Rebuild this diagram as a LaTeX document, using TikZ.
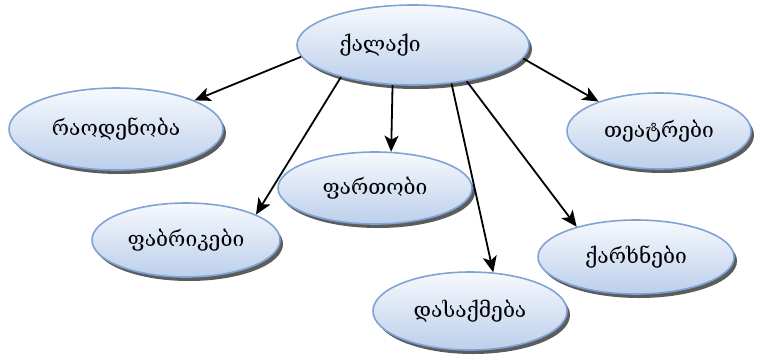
\documentclass[tikz,border=0pt]{standalone}
\usepackage{fontspec}
\setmainfont{DejaVu Serif}
\usetikzlibrary{shadows,arrows.meta,shapes.geometric}
\definecolor{edgeblue}{HTML}{7FA3D4}
\definecolor{toplight}{HTML}{F7F9FD}
\definecolor{botblue}{HTML}{BCCFEB}
\tikzset{
  bubble/.style={ellipse, draw=edgeblue, line width=1.6pt, top color=toplight, bottom color=botblue,
    inner sep=0pt, font=\fontsize{21}{24}\selectfont,
    drop shadow={shadow xshift=3pt, shadow yshift=-4pt, fill=black!75, opacity=0.85}},
  link/.style={line width=1.8pt, -{Stealth[length=16pt,width=14pt,inset=4pt]}}
}
\begin{document}
\begin{tikzpicture}[x=1pt,y=-1pt]
\useasboundingbox (0,0) rectangle (757,354);
\node[bubble, minimum width=232pt, minimum height=80pt] (c) at (413,45) {ქალაქი\hspace*{66pt}};
\node[bubble, minimum width=214pt, minimum height=82pt] (r) at (116,129) {რაოდენობა};
\node[bubble, minimum width=184pt, minimum height=76pt] (t) at (659,131) {თეატრები};
\node[bubble, minimum width=188pt, minimum height=74pt] (f) at (186,240) {ფაბრიკები};
\node[bubble, minimum width=194pt, minimum height=72pt] (p) at (375,188) {ფართობი};
\node[bubble, minimum width=194pt, minimum height=78pt] (d) at (470,311) {დასაქმება};
\node[bubble, minimum width=196pt, minimum height=74pt] (k) at (636,257) {ქარხნები};
\draw[link] (c.186) -- (r.20);
\draw[link] (c.353) -- (t.154);
\draw[link] (c.204) -- (f.20);
\draw[link] (c.243) -- (p.66);
\draw[link] (c.315) -- (d.59);
\draw[link] (c.326) -- (k.153);
\end{tikzpicture}
\end{document}
